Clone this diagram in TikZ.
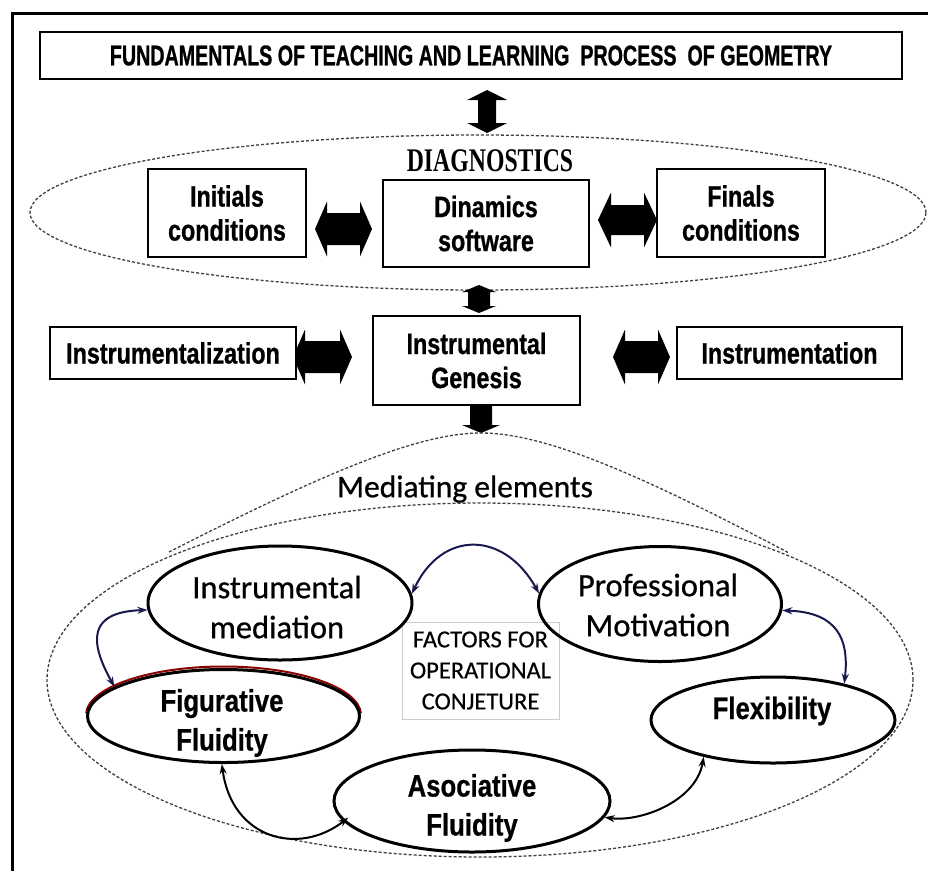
\documentclass[tikz,border=0pt]{standalone}
\usepackage{fontspec}
\setmainfont{Liberation Sans}
\newfontfamily\titlef{Liberation Sans}[FakeStretch=0.69,FakeBold=0.8]
\newfontfamily\boxf{Liberation Sans}[FakeStretch=0.79,FakeBold=0.8]
\newfontfamily\ellf{Liberation Sans}[FakeStretch=0.83,FakeBold=0.6]
\newfontfamily\diagf{Liberation Serif}[FakeStretch=0.72]
\newfontfamily\calf{Carlito}[FakeBold=0.7]
\newfontfamily\calg{Carlito}[FakeBold=0.4]
\usetikzlibrary{shapes.geometric,arrows.meta,calc}
\definecolor{navyc}{RGB}{25,25,80}
\newcommand{\TitleFont}{\titlef\bfseries\fontsize{28.5}{30}\selectfont}
\newcommand{\BoxFont}{\boxf\bfseries\fontsize{29.5}{34}\selectfont}
\newcommand{\EllFont}{\ellf\bfseries\fontsize{31}{39}\selectfont}
\newcommand{\CalFont}{\calf\fontsize{32.5}{40}\selectfont}
% horizontal double block arrow: xl xr yc shafthalf headhalf headlen
\newcommand{\hdarrow}[6]{%
 \fill (#1,#3) -- (#1+#6,#3-#5) -- (#1+#6,#3-#4) -- (#2-#6,#3-#4) -- (#2-#6,#3-#5) -- (#2,#3)
   -- (#2-#6,#3+#5) -- (#2-#6,#3+#4) -- (#1+#6,#3+#4) -- (#1+#6,#3+#5) -- cycle;}
% vertical double block arrow: yt yb xc shafthalf headhalf headlen
\newcommand{\vdarrow}[6]{%
 \fill (#3,#1) -- (#3+#5,#1+#6) -- (#3+#4,#1+#6) -- (#3+#4,#2-#6) -- (#3+#5,#2-#6) -- (#3,#2)
   -- (#3-#5,#2-#6) -- (#3-#4,#2-#6) -- (#3-#4,#1+#6) -- (#3-#5,#1+#6) -- cycle;}
\begin{document}
\begin{tikzpicture}[x=1pt,y=-1pt,
  box/.style={draw, line width=2.7pt, fill=white, inner sep=0pt, align=center, font=\BoxFont},
  oval/.style={draw, ellipse, line width=3pt, inner sep=0pt},
  dashedge/.style={draw=black!75, line width=1.3pt, dash pattern=on 3pt off 2pt},
  conn/.style={line width=2pt, {Stealth[length=10pt,width=7pt]}-{Stealth[length=10pt,width=7pt]}},
  lbl/.style={align=center, inner sep=0pt}]
\useasboundingbox (0,0) rectangle (928,870);
\clip (0,0) rectangle (928,870);
\fill[white] (0,0) rectangle (928,870);
\draw[line width=3pt] (12,885) -- (12,13) -- (945,13);

% title
\node[box, minimum width=862pt, minimum height=47pt, font=\TitleFont] (title) at (471,55.5)
  {FUNDAMENTALS OF TEACHING AND LEARNING\ \ PROCESS\ \ OF GEOMETRY};

% diagnostics
\node[ellipse, dashedge, minimum width=896pt, minimum height=155pt] (diag) at (478,212.5) {};
\node[lbl, font=\diagf\bfseries\fontsize{33}{34}\selectfont] (diagt) at (490,161) {DIAGNOSTICS};

% block arrows
\vdarrow{90}{133}{487}{9}{20}{10}
\hdarrow{315}{372}{229}{16}{27.5}{12}
\hdarrow{598}{657}{220}{15}{27.5}{13}
\vdarrow{285}{313}{479}{11}{17}{7}
\hdarrow{293}{352}{357}{16}{27.5}{12}
\hdarrow{613}{670}{357}{16}{27.5}{12}
\vdarrow{395}{433}{481}{11}{19}{8}

\node[box, minimum width=158pt, minimum height=88pt] (ini) at (227,213) {Initials\\conditions};
\node[box, minimum width=206pt, minimum height=87pt] (dyn) at (486,223.5) {Dinamics\\software};
\node[box, minimum width=168pt, minimum height=88pt] (fin) at (741,213) {Finals\\conditions};
\node[box, minimum width=207pt, minimum height=89pt] (gen) at (476.5,360.5) {Instrumental\\Genesis};
\node[box, minimum width=246pt, minimum height=52pt] (itz) at (173,353) {Instrumentalization};
\node[box, minimum width=225pt, minimum height=52pt] (itn) at (789.5,353) {Instrumentation};

% mediating elements
\node[ellipse, dashedge, minimum width=866pt, minimum height=354pt] (med) at (480,680) {};
\coordinate (tip) at (481,433);
\coordinate (shl) at (169,552);
\coordinate (shr) at (789,553);
\draw[dashedge] (shl) .. controls (330,470) and (420,433) .. (tip)
  .. controls (542,433) and (632,470) .. (shr);
\node[lbl, font=\calf\fontsize{31.5}{36}\selectfont] (medt) at (465,489) {Mediating elements};

\node[draw=black!20, line width=0.8pt, minimum width=157pt, minimum height=97pt, align=center,
  inner sep=0pt, font=\calg\fontsize{24.5}{31}\selectfont] (fac) at (480.5,670.5)
  {FACTORS FOR\\OPERATIONAL\\CONJETURE};

\draw[red!55!black, line width=2pt] (223.5,715) ++(182:137.5 and 48.5) arc[start angle=182, end angle=358, x radius=137.5, y radius=48.5];

\node[oval, minimum width=264pt, minimum height=114pt] (im) at (280,603) {};
\node[oval, minimum width=243pt, minimum height=115pt] (pm) at (660,604) {};
\node[oval, minimum width=272pt, minimum height=93pt] (ff) at (223.5,716) {};
\node[oval, minimum width=244pt, minimum height=86pt] (fx) at (773,720) {};
\node[oval, minimum width=276pt, minimum height=102pt] (af) at (472,801) {};

\node[lbl, font=\CalFont] (imt) at (277,607) {Instrumental\\mediation};
\node[lbl, font=\CalFont] (pmt) at (658,605) {Professional\\Motivation};
\node[lbl, font=\EllFont] (fft) at (222,723) {Figurative\\Fluidity};
\node[lbl, font=\EllFont] (fxt) at (772,711) {Flexibility};
\node[lbl, font=\EllFont] (aft) at (472,808) {Asociative\\Fluidity};

% curved connectors
\draw[conn, navyc] (im.4) .. controls +(30,-64) and +(-35,-63) .. (pm.175);
\draw[conn, navyc] (im.183) .. controls +(-60,2) and +(-25,-45) .. (ff.165);
\draw[conn, navyc] (pm.357) .. controls +(55,2) and +(5,-45) .. (fx.27);
\draw[conn, black, shorten >=-6pt] (ff.268) .. controls +(10,75) and +(-45,35) .. (af.189);
\draw[conn, black] (fx.208) .. controls +(-8,45) and +(35,5) .. (af.353);
\end{tikzpicture}
\end{document}
